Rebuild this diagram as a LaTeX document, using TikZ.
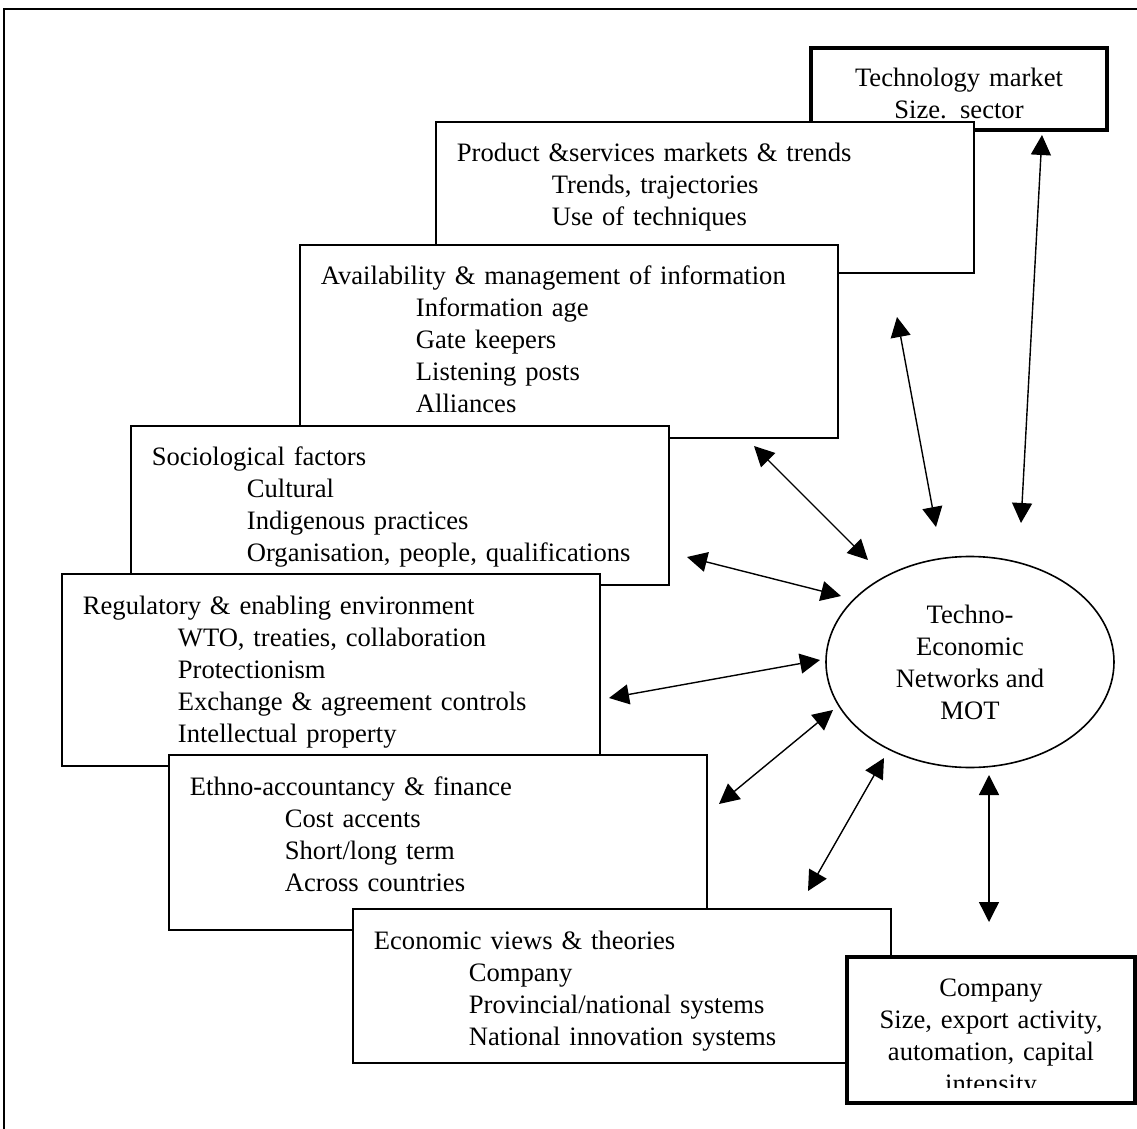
\documentclass[tikz,border=0pt]{standalone}
\usepackage{fontspec}
\setmainfont{Liberation Serif}
\usetikzlibrary{arrows.meta,shapes.geometric}
\newcommand{\indt}{\hspace*{47.5pt}}
\tikzset{
  % --- factor boxes ----------------------------------------------------------
  panel/.style={draw,fill=white,line width=0.8pt,anchor=north west,inner sep=0pt,
                minimum width=269pt},
  heavy/.style={panel,line width=2pt},
  ptxt/.style={anchor=base west,xshift=10.75pt,yshift=-20.5pt,align=left,
               text width=250pt,inner sep=0pt},
  ctxt/.style={anchor=base,align=center,text width=145pt,inner sep=0pt},
  % --- hub and links ---------------------------------------------------------
  hub/.style={ellipse,draw,line width=0.8pt,minimum width=144pt,
              minimum height=105.5pt,inner sep=0pt,align=center},
  dar/.style={{Triangle[length=10pt,width=10pt]}-{Triangle[length=10pt,width=10pt]},
              line width=0.7pt},
}

\begin{document}
\begin{tikzpicture}[x=0.5pt,y=-0.5pt,font=\fontsize{13.3}{16}\selectfont]
  \useasboundingbox (0,0) rectangle (1137,1129);
  \draw[line width=1pt] (1145,9) -- (4,9) -- (4,1140);
  % stacked boxes, back to front
  \node[heavy,minimum width=148pt,minimum height=41pt] (tm) at (809,46) {};
  \node[ctxt,yshift=-20.5pt] (tmtxt) at (tm.north) {Technology market\\Size. sector};
  \node[panel,minimum height=75.5pt] (prod) at (435,121) {};
  \node[ptxt] (prodtxt) at (prod.north west) {Product \&services markets \& trends\\
    \indt Trends, trajectories\\\indt Use of techniques};
  \node[panel,minimum height=96.5pt] (avail) at (299,244) {};
  \node[ptxt] (availtxt) at (avail.north west) {Availability \& management of information\\
    \indt Information age\\\indt Gate keepers\\\indt Listening posts\\\indt Alliances};
  \node[panel,minimum height=79.5pt] (soc) at (130,425) {};
  \node[ptxt] (soctxt) at (soc.north west) {Sociological factors\\
    \indt Cultural\\\indt Indigenous practices\\\indt Organisation, people, qualifications};
  \node[panel,minimum height=96pt] (reg) at (61,573) {};
  \node[ptxt] (regtxt) at (reg.north west) {Regulatory \& enabling environment\\
    \indt WTO, treaties, collaboration\\\indt Protectionism\\
    \indt Exchange \& agreement controls\\\indt Intellectual property};
  \node[panel,minimum height=87.5pt] (ethno) at (168,754) {};
  \node[ptxt] (ethnotxt) at (ethno.north west) {Ethno-accountancy \& finance\\
    \indt Cost accents\\\indt Short/long term\\\indt Across countries};
  \node[panel,minimum height=77pt] (econ) at (352,908) {};
  \node[ptxt] (econtxt) at (econ.north west) {Economic views \& theories\\
    \indt Company\\\indt Provincial/national systems\\\indt National innovation systems};
  \node[heavy,minimum width=144pt,minimum height=73pt] (comp) at (845,955) {};
  \begin{scope}
    \clip (847,957) rectangle (1131,1087);
    \node[ctxt,yshift=-20.5pt] (comptxt) at (comp.north) {Company\\Size, export activity,\\
      automation, capital\\intensity};
  \end{scope}
  \node[hub] (teo) at (970,662) {Techno-\\Economic\\Networks and\\MOT};
  % link ends
  \coordinate (tm-a) at (1042,135);    \coordinate (tm-b) at (1021,523);
  \coordinate (prod-a) at (897,317);   \coordinate (prod-b) at (936,527);
  \coordinate (avail-a) at (754,446);  \coordinate (avail-b) at (868,560);
  \coordinate (soc-a) at (687,557);    \coordinate (soc-b) at (841,596);
  \coordinate (reg-a) at (609,698);    \coordinate (reg-b) at (820,660);
  \coordinate (ethno-a) at (719,804);  \coordinate (ethno-b) at (833,710);
  \coordinate (econ-a) at (808,891);   \coordinate (econ-b) at (884,758);
  \coordinate (comp-a) at (989,922);   \coordinate (comp-b) at (989,775);
  \foreach \p in {tm,prod,avail,soc,reg,ethno,econ,comp} \draw[dar] (\p-a) -- (\p-b);
\end{tikzpicture}
\end{document}
